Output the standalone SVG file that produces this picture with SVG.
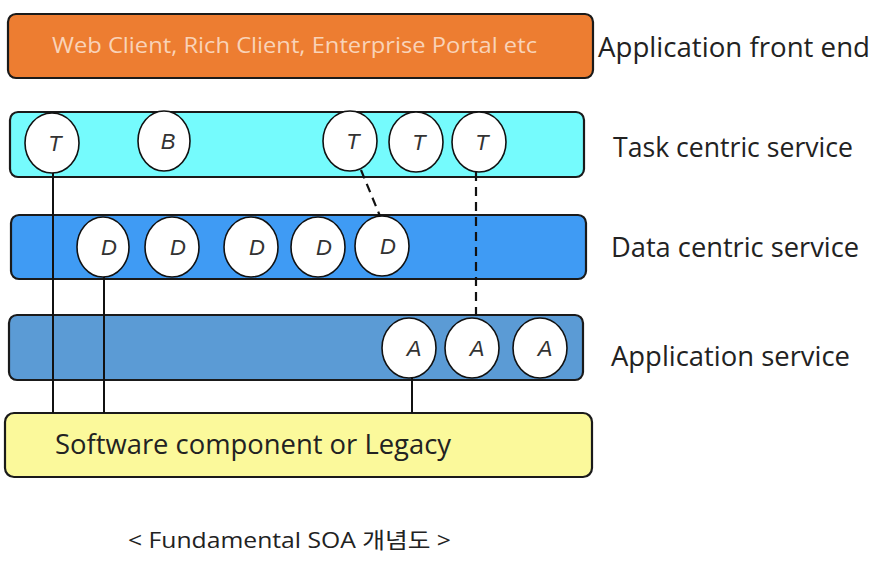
<svg xmlns="http://www.w3.org/2000/svg" width="881" height="564" viewBox="0 0 881 564">
<style>
.bar{stroke:#1a1a1a;stroke-width:2.2}
.svc ellipse{fill:#fff;stroke:#111;stroke-width:1.6}
.svc text{font-family:"Liberation Sans",Arial,sans-serif;font-style:italic;font-size:22px;fill:#333;text-anchor:middle}
.lbl{font-family:"Open Sans","Noto Sans CJK KR",sans-serif;fill:#222}
.conn line{stroke:#111;stroke-width:2}
.conn .dash{stroke-dasharray:9 6;stroke-width:2.2}
</style>
<rect width="881" height="564" fill="#fff"/>
<g id="front-end">
<rect class="bar" x="8" y="14" width="585" height="64" rx="8" fill="#ED7D31"/>
<text class="lbl" x="52" y="53" font-size="22.5" style="fill:#f9d3b8" textLength="485" lengthAdjust="spacingAndGlyphs">Web Client, Rich Client, Enterprise Portal etc</text>
<text class="lbl" x="598" y="57" font-size="27.5" textLength="272" lengthAdjust="spacingAndGlyphs">Application front end</text>
</g>
<g id="task-centric">
<rect class="bar" x="10" y="112" width="574" height="65" rx="8" fill="#75FBFD"/>
<text class="lbl" x="613" y="157" font-size="26.5" textLength="240" lengthAdjust="spacingAndGlyphs">Task centric service</text>
</g>
<g id="data-centric">
<rect class="bar" x="11" y="215" width="575" height="64" rx="8" fill="#3F9BF4"/>
<text class="lbl" x="611" y="257" font-size="26.5" textLength="248" lengthAdjust="spacingAndGlyphs">Data centric service</text>
</g>
<g id="application-service">
<rect class="bar" x="9" y="315" width="574" height="65" rx="8" fill="#5B9BD5"/>
<text class="lbl" x="611" y="366" font-size="26.5" textLength="239" lengthAdjust="spacingAndGlyphs">Application service</text>
</g>
<g id="legacy">
<rect class="bar" x="5" y="413" width="587" height="64" rx="9" fill="#FBF99B"/>
<text class="lbl" x="55" y="454" font-size="27" textLength="396" lengthAdjust="spacingAndGlyphs">Software component or Legacy</text>
</g>
<g id="connectors" class="conn">
<line x1="53" y1="173" x2="53" y2="413"/>
<line x1="104" y1="277" x2="104" y2="413"/>
<line x1="412" y1="378" x2="412" y2="413"/>
<line class="dash" x1="361" y1="170" x2="380" y2="216"/>
<line class="dash" x1="476" y1="172" x2="476" y2="318"/>
</g>
<g id="svc-T1" class="svc"><ellipse cx="52" cy="143" rx="27" ry="30"/><text x="55" y="151">T</text></g>
<g id="svc-B" class="svc"><ellipse cx="164" cy="141" rx="26" ry="30"/><text x="168" y="149">B</text></g>
<g id="svc-T2" class="svc"><ellipse cx="350" cy="141" rx="27" ry="30"/><text x="353" y="149">T</text></g>
<g id="svc-T3" class="svc"><ellipse cx="416" cy="142" rx="27" ry="30"/><text x="419" y="150">T</text></g>
<g id="svc-T4" class="svc"><ellipse cx="479" cy="142" rx="27" ry="30"/><text x="482" y="150">T</text></g>
<g id="svc-D1" class="svc"><ellipse cx="103" cy="247" rx="26" ry="30"/><text x="109" y="255">D</text></g>
<g id="svc-D2" class="svc"><ellipse cx="172" cy="247" rx="27" ry="30"/><text x="178" y="255">D</text></g>
<g id="svc-D3" class="svc"><ellipse cx="251" cy="247" rx="27" ry="30"/><text x="257" y="255">D</text></g>
<g id="svc-D4" class="svc"><ellipse cx="318" cy="247" rx="27" ry="30"/><text x="324" y="255">D</text></g>
<g id="svc-D5" class="svc"><ellipse cx="382" cy="246" rx="27" ry="30"/><text x="388" y="254">D</text></g>
<g id="svc-A1" class="svc"><ellipse cx="409" cy="348" rx="27" ry="30"/><text x="414" y="356">A</text></g>
<g id="svc-A2" class="svc"><ellipse cx="472" cy="348" rx="27" ry="30"/><text x="477" y="356">A</text></g>
<g id="svc-A3" class="svc"><ellipse cx="540" cy="348" rx="27" ry="30"/><text x="545" y="356">A</text></g>
<text id="caption" class="lbl" x="128" y="548" font-size="22" textLength="323" lengthAdjust="spacingAndGlyphs">&lt; Fundamental SOA 개념도 &gt;</text>
</svg>
